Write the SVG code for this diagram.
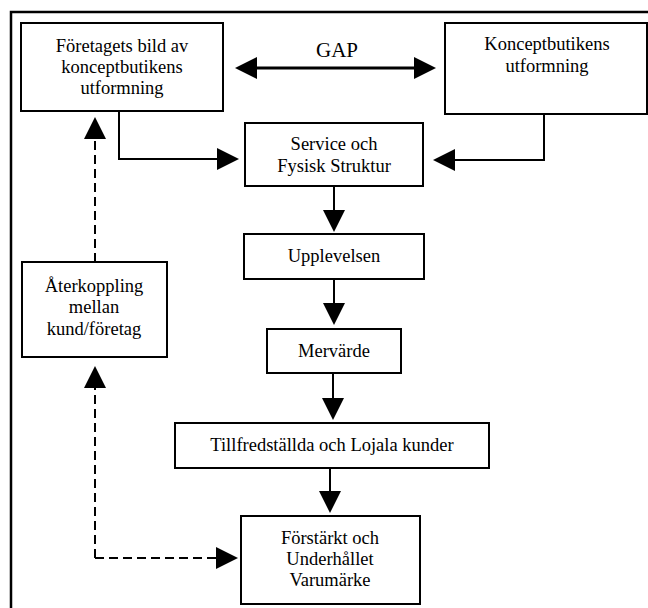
<svg xmlns="http://www.w3.org/2000/svg" width="648" height="608" viewBox="0 0 648 608">
  <defs>
    <style>
      .box { fill: #ffffff; stroke: #000000; stroke-width: 2; }
      .lbl { font-family: 'Liberation Serif', 'DejaVu Serif', serif; font-size: 18.5px; fill: #000000; text-anchor: middle; }
      .gap { font-size: 21px; }
      .line { fill: none; stroke: #000000; stroke-width: 2; }
      .thick { stroke-width: 3; }
      .dash { stroke-dasharray: 9 5; }
    </style>
    <marker id="head" markerUnits="userSpaceOnUse" markerWidth="22" markerHeight="22" viewBox="0 0 21 21" refX="0" refY="10.5" orient="auto-start-reverse">
      <path d="M0,0 L21,10.5 L0,21 Z" fill="#000000"/>
    </marker>
  </defs>

  <rect width="648" height="608" fill="#ffffff"/>

  <!-- frame around the model -->
  <path d="M11,608 V12 H648" fill="none" stroke="#000000" stroke-width="2.5"/>

  <g id="connectors">
    <!-- GAP double arrow -->
    <path class="line thick" d="M257,68 H414" marker-start="url(#head)" marker-end="url(#head)"/>
    <!-- company image to service -->
    <path class="line" d="M119,111 V159 H217" marker-end="url(#head)"/>
    <!-- concept store to service -->
    <path class="line" d="M544,114 V160 H455" marker-end="url(#head)"/>
    <!-- main chain -->
    <path class="line" d="M334,186 V210" marker-end="url(#head)"/>
    <path class="line" d="M334,279 V303" marker-end="url(#head)"/>
    <path class="line" d="M333,373 V398" marker-end="url(#head)"/>
    <path class="line" d="M330,468 V491" marker-end="url(#head)"/>
    <!-- feedback loop (dashed) -->
    <path class="line dash" d="M95,262 V139" marker-end="url(#head)"/>
    <path class="line dash" d="M95,558 V388" marker-end="url(#head)"/>
    <path class="line dash" d="M95,558 H216" marker-end="url(#head)"/>
  </g>

  <g font-family="Liberation Serif, DejaVu Serif, serif">
    <text class="lbl gap" x="337" y="57">GAP</text>

    <g id="foretagets-bild">
      <rect class="box" x="21" y="23" width="202" height="88"/>
      <text class="lbl" x="122" y="52">Företagets bild av</text>
      <text class="lbl" x="122" y="73">konceptbutikens</text>
      <text class="lbl" x="122" y="94">utformning</text>
    </g>

    <g id="konceptbutikens-utformning">
      <rect class="box" x="445" y="23" width="202" height="91"/>
      <text class="lbl" x="547" y="50">Konceptbutikens</text>
      <text class="lbl" x="547" y="72">utformning</text>
    </g>

    <g id="service">
      <rect class="box" x="245" y="123" width="178" height="63"/>
      <text class="lbl" x="334" y="150">Service och</text>
      <text class="lbl" x="334" y="172">Fysisk Struktur</text>
    </g>

    <g id="upplevelsen">
      <rect class="box" x="244" y="234" width="180" height="45"/>
      <text class="lbl" x="334" y="262">Upplevelsen</text>
    </g>

    <g id="mervarde">
      <rect class="box" x="267" y="329" width="134" height="44"/>
      <text class="lbl" x="334" y="357">Mervärde</text>
    </g>

    <g id="tillfredsstallda">
      <rect class="box" x="175" y="423" width="314" height="45"/>
      <text class="lbl" x="332" y="451">Tillfredställda och Lojala kunder</text>
    </g>

    <g id="varumarke">
      <rect class="box" x="241" y="516" width="179" height="88"/>
      <text class="lbl" x="330" y="544">Förstärkt och</text>
      <text class="lbl" x="330" y="565">Underhållet</text>
      <text class="lbl" x="330" y="586">Varumärke</text>
    </g>

    <g id="aterkoppling">
      <rect class="box" x="22" y="262" width="145" height="95"/>
      <text class="lbl" x="94" y="292">Återkoppling</text>
      <text class="lbl" x="94" y="313">mellan</text>
      <text class="lbl" x="94" y="335">kund/företag</text>
    </g>
  </g>
</svg>
